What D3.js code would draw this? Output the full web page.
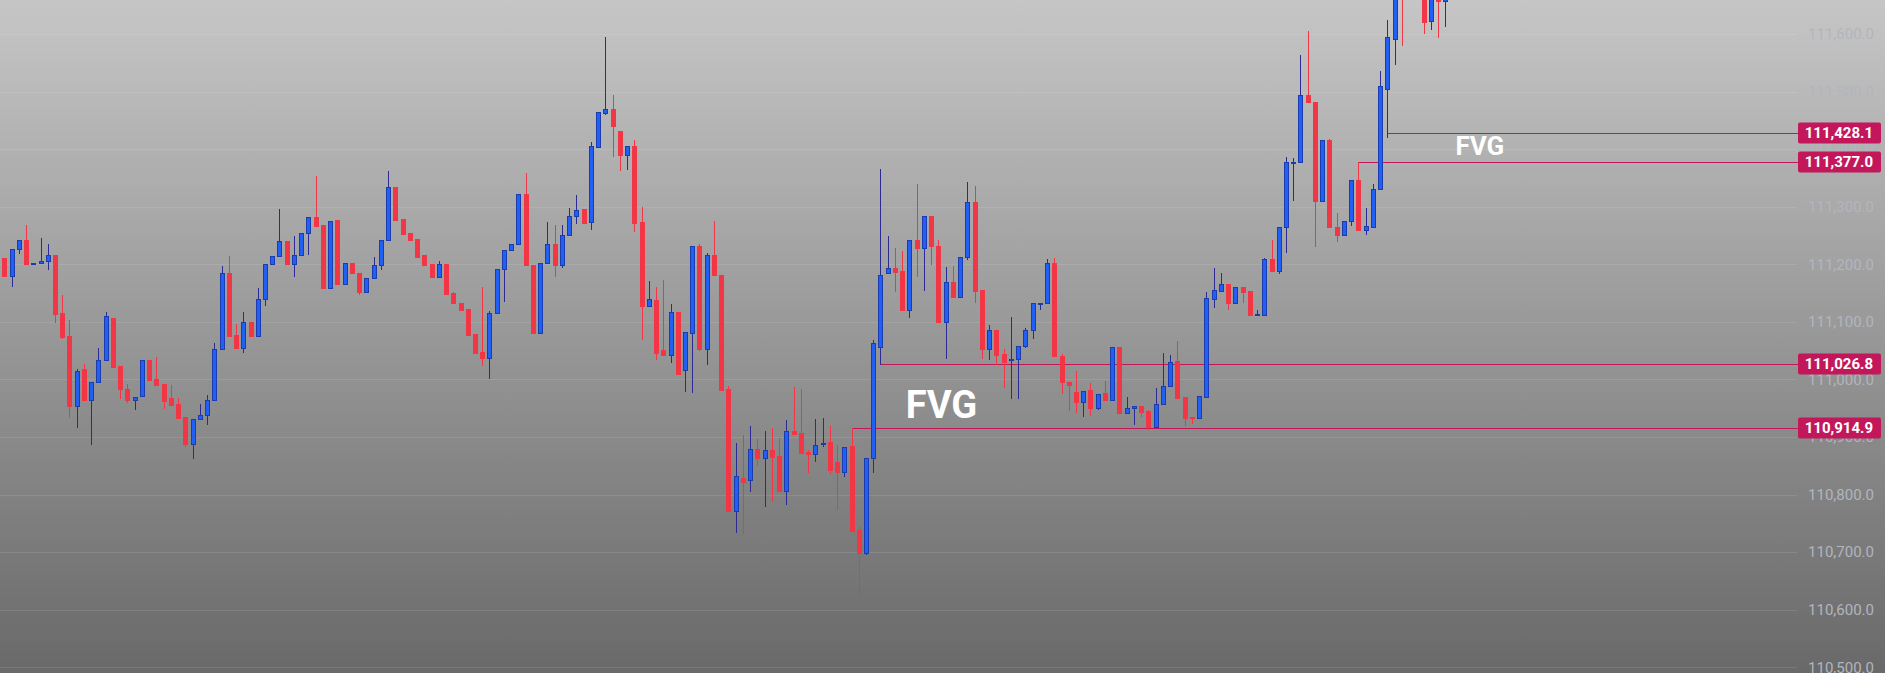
<!DOCTYPE html>
<html>
<head>
<meta charset="utf-8">
<script src="https://cdn.jsdelivr.net/npm/d3@7"></script>
<style>
  html, body { margin: 0; padding: 0; overflow: hidden; }
  svg { display: block; font-family: Roboto, "Noto Sans", sans-serif; }
</style>
</head>
<body>
<div id="chart"></div>
<script>
// OHLC values, one entry per candle (oldest first)
var opens = [
  111211,111180,111226,111242,111201,111202,111205,111216,111115,111075,
  110953,111018,110965,110995,111033,111107,111023,110983,110965,110972,
  111034,111001,110992,110968,110957,110935,110887,110931,110938,110964,
  111052,111184,111077,111055,111100,111076,111139,111200,111214,111240,
  111201,111216,111254,111282,111268,111159,111277,111165,111202,111184,
  111152,111176,111198,111243,111335,111279,111254,111244,111216,111200,
  111178,111200,111150,111133,111122,111079,111048,111038,111115,111191,
  111224,111236,111322,111199,111081,111203,111236,111199,111250,111283,
  111296,111273,111404,111463,111470,111431,111389,111405,111273,111128,
  111138,111051,111043,111117,111017,111081,111231,111052,111216,111181,
  110983,110772,110829,110826,110879,110864,110877,110867,110807,110910,
  110907,110874,110871,110887,110891,110857,110840,110884,110738,110698,
  110863,111057,111185,111194,111188,111121,111242,111229,111283,111231,
  111100,111170,111144,111213,111308,111155,111053,111086,111044,111034,
  111035,111058,111085,111131,111132,111202,111041,110996,110978,110960,
  110982,110951,110976,110965,111056,110942,110950,110953,110945,110918,
  110957,110988,111032,110969,110935,110933,110970,111140,111154,111166,
  111132,111161,111154,111112,111112,111210,111189,111264,111376,111378,
  111494,111482,111310,111416,111264,111251,111276,111346,111260,111265,
  111330,111505,111591,111700,111672,111705,111675,111623,111665,111657
];
var highs = [
  111211,111226,111242,111268,111202,111246,111235,111216,111147,111103,
  111018,111027,110995,111055,111117,111107,111023,110992,110969,111033,
  111034,111039,110992,110990,110968,110935,110931,110957,110973,111063,
  111197,111214,111097,111117,111100,111159,111200,111214,111296,111240,
  111249,111254,111282,111353,111268,111276,111277,111202,111202,111184,
  111176,111213,111243,111362,111335,111279,111254,111244,111216,111200,
  111206,111200,111152,111133,111122,111079,111161,111119,111191,111224,
  111236,111322,111359,111199,111203,111273,111268,111268,111298,111320,
  111296,111412,111464,111595,111494,111431,111405,111416,111299,111171,
  111161,111173,111131,111117,111082,111231,111235,111220,111275,111181,
  110989,110890,110903,110919,110897,110910,110916,110898,110930,110987,
  110983,110877,110931,110933,110919,110886,110882,110914.9,110745,110863,
  111068,111365,111249,111228,111223,111242,111339,111283,111283,111243,
  111195,111197,111212,111343,111336,111155,111095,111086,111053,111108,
  111058,111089,111132,111132,111209,111211,111044,110996,111015,110979,
  110994,110974,110997,111056,111056,110969,110953,110953,110947,110985,
  111046,111042,111067,110969,110935,110971,111152,111194,111185,111166,
  111160,111161,111154,111121,111211,111242,111264,111386,111385,111564,
  111606,111482,111415,111418,111289,111276,111346,111377,111298,111339,
  111536,111624,111680,111712,111720,111730,111690,111675,111670,111668
];
var lows = [
  111180,111163,111220,111201,111201,111202,111192,111100,111072,110935,
  110918,110965,110887,110995,111033,111022,110967,110961,110949,110972,
  110999,110991,110951,110956,110933,110885,110864,110931,110923,110964,
  111052,111076,111055,111048,111076,111076,111130,111200,111214,111201,
  111180,111216,111218,111267,111159,111159,111165,111165,111184,111149,
  111152,111176,111191,111243,111277,111253,111243,111213,111199,111178,
  111178,111149,111132,111121,111078,111046,111025,111003,111115,111136,
  111224,111236,111198,111081,111081,111203,111180,111196,111250,111272,
  111272,111262,111404,111461,111388,111364,111365,111258,111070,111128,
  111035,111042,111030,111010,110980,110978,111051,111027,111181,110982,
  110772,110735,110734,110806,110851,110780,110789,110806,110784,110906,
  110873,110839,110859,110884,110838,110775,110833,110737,110625,110696,
  110839,111026.8,111185,111154,111121,111109,111180,111156,111201,111100,
  111038,111144,111144,111210,111135,111038,111036,111027,110986,110967,
  110968,111056,111072,111122,111132,111041,110977,110947,110944,110937,
  110939,110949,110965,110965,110942,110942,110923,110937,110913,110918,
  110957,110988,110968,110921,110925,110933,110970,111126,111154,111122,
  111132,111134,111112,111112,111112,111189,111185,111222,111312,111378,
  111481,111231,111310,111264,111240,111251,111269,111260,111253,111265,
  111330,111421,111548,111581,111668,111680,111602,111609,111594,111614
];
var closes = [
  111180,111226,111242,111201,111202,111205,111216,111114,111074,110953,
  111015,110965,110995,111033,111110,111022,110984,110965,110969,111033,
  110999,110991,110963,110956,110933,110887,110931,110938,110964,111052,
  111184,111076,111055,111099,111076,111139,111200,111214,111240,111201,
  111216,111254,111282,111267,111159,111276,111165,111202,111184,111152,
  111176,111198,111243,111335,111277,111253,111243,111213,111199,111178,
  111200,111149,111132,111121,111078,111046,111038,111115,111191,111224,
  111236,111322,111198,111081,111203,111236,111199,111250,111283,111295,
  111272,111405,111464,111469,111440,111389,111405,111272,111128,111139,
  111046,111042,111117,111010,111082,111231,111053,111216,111181,110982,
  110772,110832,110821,110879,110864,110877,110866,110806,110910,110906,
  110873,110871,110886,110889,110843,110840,110882,110737,110699,110863,
  111063,111181,111193,111187,111121,111242,111229,111283,111231,111100,
  111170,111144,111212,111308,111154,111053,111085,111043,111030,111035,
  111058,111085,111132,111132,111202,111041,110995,110991,110961,110979,
  110951,110974,110965,111056,110942,110950,110953,110944,110918,110957,
  110988,111031,110968,110933,110933,110971,111141,111155,111165,111132,
  111160,111152,111112,111113,111209,111189,111264,111377,111377,111494,
  111481,111310,111415,111264,111251,111276,111346,111260,111266,111330,
  111509,111594,111664,111672,111705,111690,111620,111668,111657,111662
];

// price axis ticks
var priceTicks = d3.range(110500, 111601, 100);

// fair value gap levels and the candle each line starts from
var fvgLevels = [111428.1, 111377.0, 111026.8, 110914.9];
var fvgStarts = [191, 187, 121, 117];

// "FVG" text annotations (candle index, price at baseline)
var fvgTexts = ["FVG", "FVG"];
var fvgTextIndex = [124.5, 200.4];
var fvgTextPrice = [110933, 111390];

var width = 1885, height = 673;
var plotRight = 1797;

var candles = opens.map(function(o, i) {
    return { i: i, o: o, h: highs[i], l: lows[i], c: closes[i] };
});

var x = d3.scaleLinear().domain([0, opens.length - 1]).range([4.33, 1445.3]);
var y = d3.scaleLinear().domain([110500, 111600]).range([667.26, 33.99]);
var fmt = d3.format(",.1f");

var svg = d3.select("#chart").append("svg")
    .attr("width", width)
    .attr("height", height);

// background gradient
var grad = svg.append("defs").append("linearGradient")
    .attr("id", "bg")
    .attr("x1", 0).attr("y1", 0).attr("x2", 0).attr("y2", 1);
grad.append("stop").attr("offset", "0%").attr("stop-color", "#c6c6c6");
grad.append("stop").attr("offset", "100%").attr("stop-color", "#696969");

svg.append("rect")
    .attr("width", width)
    .attr("height", height)
    .attr("fill", "url(#bg)");

// horizontal grid
svg.append("g").selectAll("line")
    .data(priceTicks)
  .enter().append("line")
    .attr("x1", 0)
    .attr("x2", plotRight)
    .attr("y1", function(d) { return Math.round(y(d)) + 0.5; })
    .attr("y2", function(d) { return Math.round(y(d)) + 0.5; })
    .attr("stroke", "rgba(255,255,255,0.1)")
    .attr("stroke-width", 1);

// FVG level lines
svg.append("g").selectAll("line")
    .data(fvgLevels)
  .enter().append("line")
    .attr("x1", function(d, i) { return Math.round(x(fvgStarts[i])); })
    .attr("x2", plotRight + 1)
    .attr("y1", function(d) { return Math.round(y(d)) + 0.5; })
    .attr("y2", function(d) { return Math.round(y(d)) + 0.5; })
    .attr("stroke", "#c2185b")
    .attr("stroke-width", 1);

var up = function(d) { return d.c >= d.o; };
var cx = function(d) { return Math.round(x(d.i)); };

// wicks
svg.append("g").selectAll("line")
    .data(candles)
  .enter().append("line")
    .attr("x1", function(d) { return cx(d) + 0.5; })
    .attr("x2", function(d) { return cx(d) + 0.5; })
    .attr("y1", function(d) { return Math.round(y(d.h)); })
    .attr("y2", function(d) { return Math.round(y(d.l)) + 1; })
    .attr("stroke", function(d) { return up(d) ? "#2c2a93" : "#f23645"; })
    .attr("stroke-width", 1);

// bodies
svg.append("g").selectAll("rect")
    .data(candles)
  .enter().append("rect")
    .each(function(d) {
        var yt = Math.round(y(Math.max(d.o, d.c)));
        var yb = Math.round(y(Math.min(d.o, d.c)));
        var r = d3.select(this);
        if (up(d)) {
            r.attr("x", cx(d) - 1.5)
             .attr("width", 4)
             .attr("y", yt + 0.5)
             .attr("height", Math.max(yb - yt, 0))
             .attr("fill", "#2260f5")
             .attr("stroke", "#1b3cae")
             .attr("stroke-width", 1);
        } else {
            r.attr("x", cx(d) - 2)
             .attr("width", 5)
             .attr("y", yt)
             .attr("height", Math.max(yb - yt + 1, 2))
             .attr("fill", "#f23645");
        }
    });

// FVG annotation text
svg.append("g").selectAll("text")
    .data(fvgTexts)
  .enter().append("text")
    .attr("x", function(d, i) { return x(fvgTextIndex[i]); })
    .attr("y", function(d, i) { return y(fvgTextPrice[i]); })
    .attr("fill", "#ffffff")
    .attr("font-weight", "bold")
    .attr("font-size", function(d, i) { return i === 0 ? "38px" : "26px"; })
    .text(function(d) { return d; });

// price axis on the right
var axis = d3.axisRight(y)
    .tickValues(priceTicks)
    .tickFormat(fmt)
    .tickSize(0)
    .tickPadding(0);

var axisG = svg.append("g")
    .attr("transform", "translate(1874,0)")
    .call(axis);
axisG.select(".domain").remove();
axisG.attr("font-family", null).attr("font-size", null);
axisG.selectAll("text")
    .attr("x", 0)
    .attr("text-anchor", "end")
    .attr("fill", "#b2b5be")
    .style("font-size", "15px");

// level labels on the axis
var boxes = svg.append("g").selectAll("g")
    .data(fvgLevels)
  .enter().append("g")
    .attr("transform", function(d) { return "translate(0," + Math.round(y(d)) + ")"; });

boxes.append("rect")
    .attr("x", 1798)
    .attr("y", -10.5)
    .attr("width", 83)
    .attr("height", 21)
    .attr("rx", 2)
    .attr("fill", "#c2185b");

boxes.append("text")
    .attr("x", 1873)
    .attr("y", 0)
    .attr("dy", "0.36em")
    .attr("text-anchor", "end")
    .attr("fill", "#ffffff")
    .attr("font-weight", "bold")
    .style("font-size", "15px")
    .text(function(d) { return fmt(d); });
</script>
</body>
</html>
